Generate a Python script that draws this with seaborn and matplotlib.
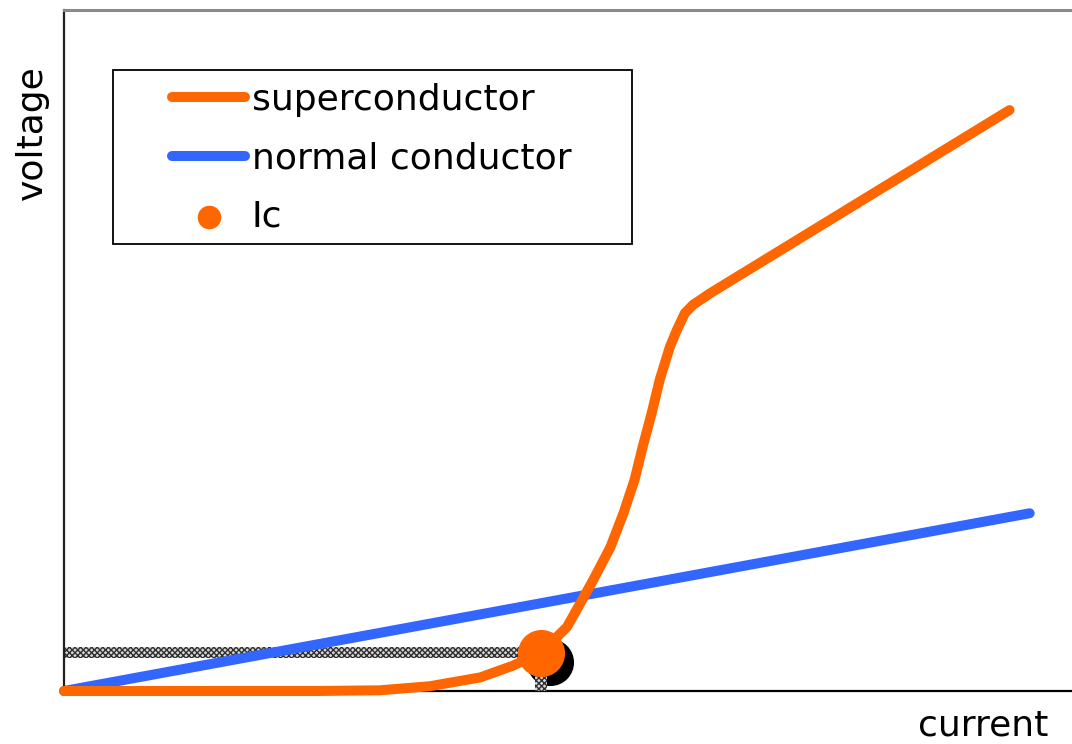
import matplotlib
matplotlib.use("Agg")
import matplotlib.pyplot as plt
from matplotlib.patches import Rectangle
from matplotlib.transforms import offset_copy
import seaborn as sns

# Current / voltage characteristics (arbitrary units)
sc_current = [0.0, 1.50, 2.50, 3.13, 3.63, 4.13, 4.45, 4.73, 4.99, 5.10, 5.25,
              5.42, 5.55, 5.66, 5.74, 5.83, 5.91, 6.01, 6.08, 6.16, 6.24, 6.41,
              9.38]
sc_voltage = [0.0, 0.0, 0.0, 0.01, 0.07, 0.20, 0.37, 0.56, 0.94, 1.23, 1.63,
              2.11, 2.61, 3.10, 3.58, 4.08, 4.57, 5.05, 5.30, 5.55, 5.67, 5.84,
              8.53]

nc_current = [0.0, 9.58]
nc_voltage = [0.0, 2.61]

ic_current = 4.73
ic_voltage = 0.56

series_labels = ["superconductor", "normal conductor", "Ic"]
axis_labels = ["current", "voltage"]

ORANGE = "#ff6600"
BLUE = "#3366ff"

sns.set_theme(style="white")
plt.rcParams["font.family"] = ["DejaVu Sans"]
plt.rcParams["hatch.linewidth"] = 1.0
plt.rcParams["hatch.color"] = "#303030"

fig = plt.figure(figsize=(10.72, 7.44), dpi=100)
ax = fig.add_axes([64 / 1072, 53 / 744, 1008 / 1072, 681 / 744])
ax.set_xlim(0, 10)
ax.set_ylim(0, 10)

# Dotted guide lines from the critical point to both axes
band_h = 0.08
band_w = 0.06
ax.fill_between([0, ic_current], ic_voltage - band_h, ic_voltage + band_h,
                facecolor="#d8d8d8", edgecolor="#303030", hatch="xxxxxx",
                linewidth=0, zorder=1)
ax.fill_betweenx([0, ic_voltage], ic_current - band_w, ic_current + band_w,
                 facecolor="#d8d8d8", edgecolor="#303030", hatch="xxxxxx",
                 linewidth=0, zorder=4.5)

line_kw = dict(linewidth=7.2, solid_capstyle="round", solid_joinstyle="round",
               clip_on=False, estimator=None, sort=False)
sns.lineplot(x=sc_current, y=sc_voltage, color=ORANGE, label=series_labels[0],
             ax=ax, zorder=3, **line_kw)
sns.lineplot(x=nc_current, y=nc_voltage, color=BLUE, label=series_labels[1],
             ax=ax, zorder=2, **line_kw)

# Drop shadow under the critical-current marker
shadow_tr = offset_copy(ax.transData, fig=fig, x=6.5, y=-6.5, units="points")
sns.scatterplot(x=[ic_current], y=[ic_voltage], color="black", s=1150,
                linewidth=0, legend=False, ax=ax, zorder=4, clip_on=False,
                transform=shadow_tr)
sns.scatterplot(x=[ic_current], y=[ic_voltage], color=ORANGE, s=1150,
                linewidth=0, label=series_labels[2], ax=ax, zorder=5,
                clip_on=False)

# Spines
ax.spines["right"].set_visible(False)
ax.spines["top"].set_color("#8a8a8a")
ax.spines["top"].set_linewidth(2.2)
ax.spines["left"].set_color("#202020")
ax.spines["left"].set_linewidth(1.6)
ax.spines["bottom"].set_color("black")
ax.spines["bottom"].set_linewidth(1.6)
ax.set_xticks([])
ax.set_yticks([])

# Axis labels
ax.set_xlabel(axis_labels[0], fontsize=26, color="black")
ax.xaxis.label.set_ha("right")
ax.xaxis.label.set_va("baseline")
ax.xaxis.set_label_coords((1048 - 64) / 1008, (691 - 735) / 681)

ax.set_ylabel(axis_labels[1], fontsize=26, color="black")
ax.yaxis.label.set_rotation_mode("anchor")
ax.yaxis.label.set_ha("center")
ax.yaxis.label.set_va("baseline")
ax.yaxis.set_label_coords((42 - 64) / 1008, (691 - 133) / 681)

# Legend with a separate square frame
leg = ax.legend(loc="upper left", bbox_to_anchor=((172 - 64) / 1008, (691 - 83) / 681),
                frameon=False, fontsize=26, handlelength=2.03, handletextpad=0.18,
                labelspacing=0.67, borderpad=0, borderaxespad=0, markerscale=0.5)
for t in leg.get_texts():
    t.set_color("black")

ax.add_patch(Rectangle(((113 - 64) / 1008, (691 - 244) / 681),
                       (632 - 113) / 1008, (244 - 70) / 681,
                       transform=ax.transAxes, fill=False, edgecolor="black",
                       linewidth=1.3, zorder=6))

fig.savefig("out.png", dpi=100)
